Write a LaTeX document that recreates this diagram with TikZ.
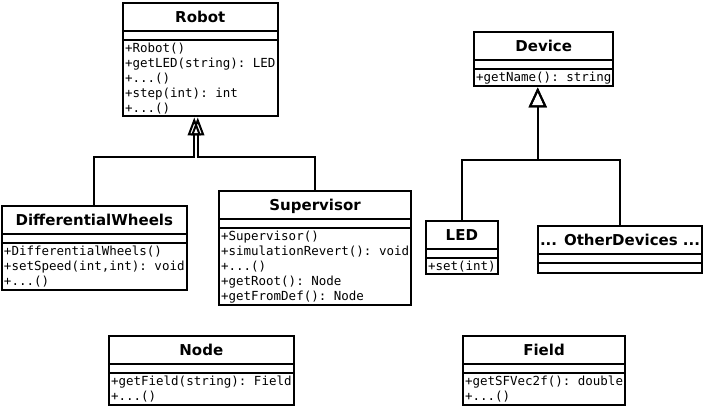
\documentclass[tikz,border=0pt]{standalone}
\usepackage{fontspec}
\setsansfont{DejaVu Sans}
\setmonofont{DejaVu Sans Mono}
\usetikzlibrary{arrows.meta,shapes.multipart}
\newcommand\clsname[1]{{\sffamily\bfseries\fontsize{15}{18}\selectfont\rule[-6pt]{0pt}{23pt}#1}}

\begin{document}
\begin{tikzpicture}[
  x=1pt, y=-1pt,
  cls/.style={
    rectangle split, rectangle split parts=3,
    rectangle split part align={center,left,left},
    rectangle split empty part height=4pt,
    rectangle split empty part depth=0pt,
    draw, line width=2pt, anchor=north west,
    inner xsep=2pt, inner ysep=1.5pt, align=left,
    font=\fontsize{12.5}{15}\ttfamily
  },
  gen/.style={
    line width=2pt,
    -{Triangle[open, length=18pt 0 0, width=13pt 0 0]}
  },
  biggen/.style={
    line width=2pt,
    -{Triangle[open, length=20pt 0 0, width=18pt 0 0]}
  }
]
  \useasboundingbox (0,0) rectangle (707,405);
  % robot side
  \node[cls] (robot) at (122,2) {\clsname{Robot}
    \nodepart{third}+Robot()\\+getLED(string): LED\\+...()\\+step(int): int\\+...()};
  \node[cls] (dw) at (1,205) {\clsname{DifferentialWheels}
    \nodepart{third}+DifferentialWheels()\\+setSpeed(int,int): void\\+...()};
  \node[cls] (sup) at (218,190) {\clsname{Supervisor}
    \nodepart{third}+Supervisor()\\+simulationRevert(): void\\+...()\\+getRoot(): Node\\+getFromDef(): Node};
  % devices
  \node[cls] (dev) at (473,31) {\clsname{Device}
    \nodepart{third}+getName(): string};
  \node[cls] (led) at (425,220) {\clsname{LED}
    \nodepart{third}+set(int)};
  \node[cls] (oth) at (537,225) {\clsname{... OtherDevices ...}};
  % scene tree
  \node[cls] (node) at (108,335) {\clsname{Node}
    \nodepart{third}+getField(string): Field\\+...()};
  \node[cls] (field) at (462,335) {\clsname{Field}
    \nodepart{third}+getSFVec2f(): double\\+...()};

  \coordinate (robotbus) at (0,157);
  \coordinate (devbus) at (0,160);
  \draw[gen] (dw.north) -- (dw.north |- robotbus) -| ([xshift=-6pt]robot.south);
  \draw[gen] (sup.north) -- (sup.north |- robotbus) -| ([xshift=-2.5pt]robot.south);
  \draw[biggen] (led.north) -- (led.north |- devbus) -| ([xshift=-6pt]dev.south);
  \draw[biggen] (oth.north) -- (oth.north |- devbus) -| ([xshift=-6pt]dev.south);
\end{tikzpicture}
\end{document}
